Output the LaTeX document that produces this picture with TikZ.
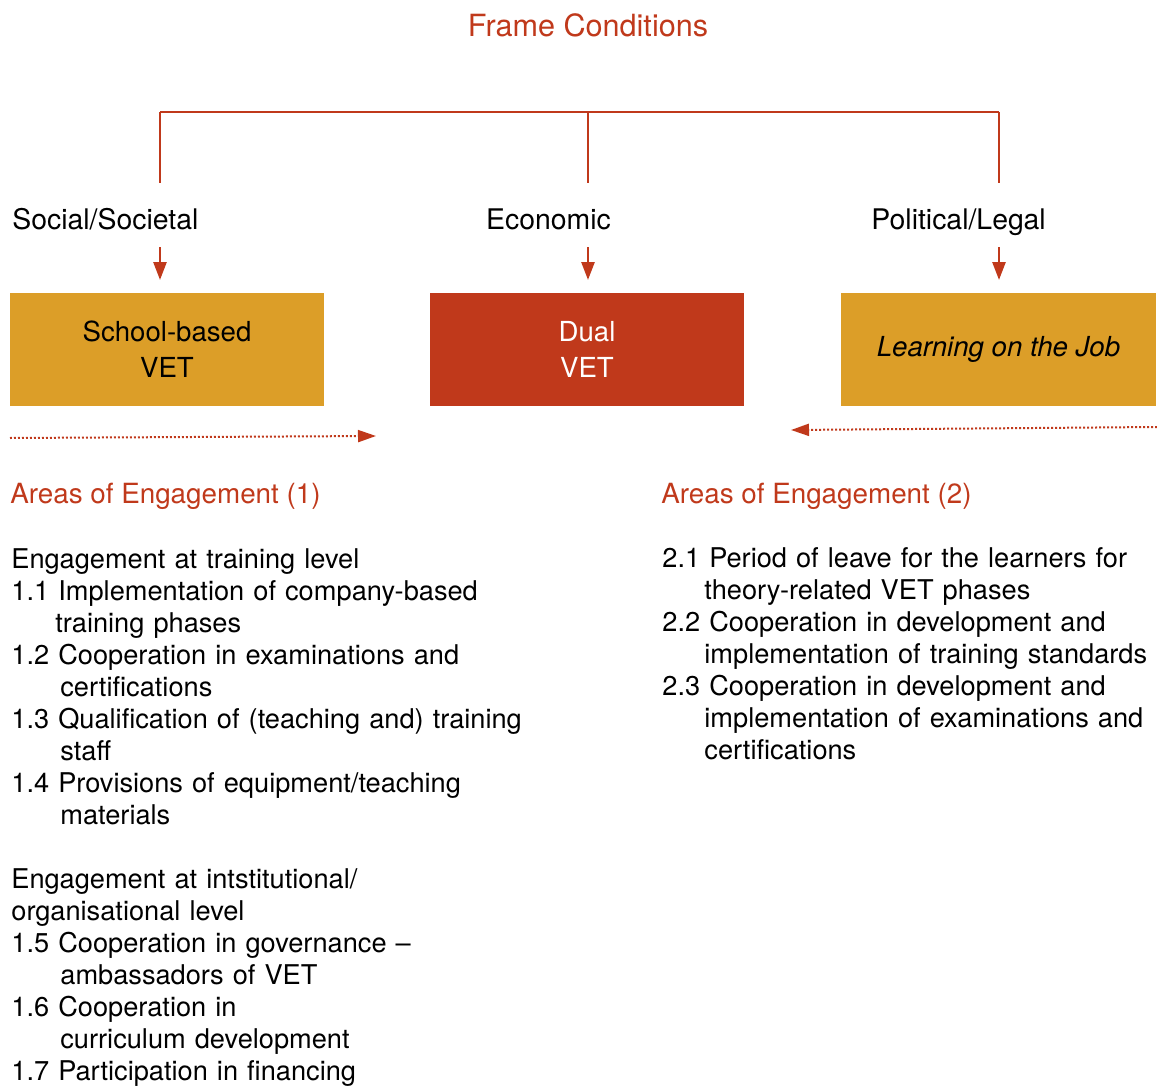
\documentclass[tikz,border=0pt]{standalone}
\usepackage{fontspec}
\setmainfont{TeX Gyre Heros}
\usetikzlibrary{arrows.meta}

\definecolor{vetred}{RGB}{192,57,27}
\definecolor{vetgold}{RGB}{220,158,40}

\newcommand{\hangA}{\hspace*{24.5pt}}
\newcommand{\hangB}{\hspace*{21pt}}

\begin{document}
\begin{tikzpicture}[x=0.5pt,y=-0.5pt,
  every node/.style={inner sep=0pt},
  txt/.style={font=\fontsize{14.2}{16}\selectfont},
  head/.style={font=\fontsize{13.9}{16}\selectfont,text=vetred,anchor=base west},
  list/.style={font=\fontsize{13.6}{16}\selectfont,anchor=base west,align=left,text width=280pt},
  vetbox/.style={minimum width=157pt,minimum height=56.5pt,align=center,
    font=\fontsize{13.8}{18}\selectfont},
  frameline/.style={vetred,line width=1.1pt},
  downarrow/.style={vetred,line width=1.3pt,-{Triangle[width=6.5pt,length=9pt]}},
  dotarrow/.style={vetred,line width=1pt,dash pattern=on 0.9pt off 1.1pt,
    -{Triangle[width=6pt,length=9pt]}}]
  \useasboundingbox (0,0) rectangle (1157,1086);

  \node[txt,font=\fontsize{15.3}{18}\selectfont,text=vetred,anchor=base] (title) at (588,37) {Frame Conditions};

  % frame bracket
  \coordinate (fc-l) at (160,112);
  \coordinate (fc-m) at (588,112);
  \coordinate (fc-r) at (999,112);
  \draw[frameline] (fc-l) -- (fc-r);
  \foreach \c in {fc-l,fc-m,fc-r}
    \draw[frameline] (\c) -- ++(0,71);

  \node[txt,anchor=base west] (social) at (12,229) {Social/Societal};
  \node[txt,anchor=base] (economic) at (548.5,229) {Economic};
  \node[txt,anchor=base west] (political) at (871,229) {Political/Legal};

  \node[vetbox,fill=vetgold] (school) at (167,349.5) {School-based\\VET};
  \node[vetbox,fill=vetred,text=white] (dual) at (587,349.5) {Dual\\VET};
  \node[vetbox,fill=vetgold,minimum width=157.5pt] (job) at (998.5,349.5) {\itshape Learning on the Job};

  \foreach \x in {160,588,999}
    \draw[downarrow] (\x,247) -- (\x,280);

  % dotted arrows under the boxes
  \coordinate (dl-s) at (10,438);
  \coordinate (dl-e) at (376,436);
  \coordinate (dr-s) at (1157,427);
  \coordinate (dr-e) at (791,430);
  \draw[dotarrow] (dl-s) -- (dl-e);
  \draw[dotarrow] (dr-s) -- (dr-e);

  \node[head] (areas1) at (10,503) {Areas of Engagement (1)};
  \node[head] (areas2) at (661,503) {Areas of Engagement (2)};

  \node[list] (training) at (11,568) {Engagement at training level\\
    1.1 Implementation of company-based\\
    \hspace*{22pt}training phases\\
    1.2 Cooperation in examinations and\\
    \hangA certifications\\
    1.3 Qualification of (teaching and) training\\
    \hangA staff\\
    1.4 Provisions of equipment/teaching\\
    \hangA materials};

  \node[list] (institutional) at (11,888) {Engagement at intstitutional/\\
    organisational level\\
    1.5 Cooperation in governance --\\
    \hangA ambassadors of VET\\
    1.6 Cooperation in\\
    \hangA curriculum development\\
    1.7 Participation in financing};

  \node[list] (areas2list) at (662,567) {2.1 Period of leave for the learners for\\
    \hangB theory-related VET phases\\
    2.2 Cooperation in development and\\
    \hangB implementation of training standards\\
    2.3 Cooperation in development and\\
    \hangB implementation of examinations and\\
    \hangB certifications};
\end{tikzpicture}
\end{document}
